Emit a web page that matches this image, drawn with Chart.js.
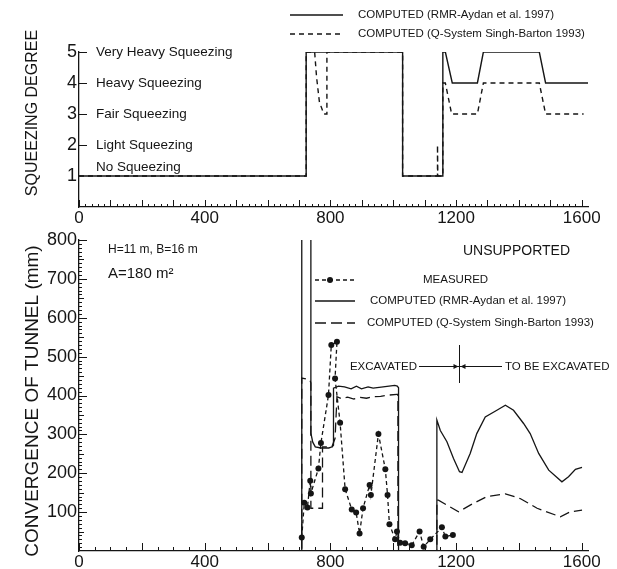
<!DOCTYPE html>
<html>
<head>
<meta charset="utf-8">
<script src="https://cdn.jsdelivr.net/npm/chart.js@4.4.0/dist/chart.umd.min.js"></script>
<style>
  html, body { margin: 0; padding: 0; background: #fff; }
  #wrap { position: relative; width: 617px; height: 569px; overflow: hidden; }
  #topChart { position: absolute; left: 0; top: 0; }
  #botChart { position: absolute; left: 0; top: 225px; }
</style>
</head>
<body>
<div id="wrap">
  <canvas id="topChart" width="617" height="230"></canvas>
  <canvas id="botChart" width="617" height="344"></canvas>
</div>
<script>
const FONT = '"Liberation Sans", Arial, sans-serif';
const INK = '#151515';

// --- squeezing degree (top chart) ---
const degRmrX = [0, 723, 723, 1030, 1030, 1158, 1158, 1166, 1188, 1268, 1287, 1465, 1485, 1620];
const degRmrY = [1, 1, 5, 5, 1, 1, 5, 5, 4, 4, 5, 5, 4, 4];
const degQX = [0, 723, 723, 750, 756, 765, 779, 789, 789, 1030, 1030, 1141, 1141, 1142, 1158, 1158, 1166, 1186, 1268, 1287, 1465, 1485, 1606];
const degQY = [1, 1, 5, 5, 4.2, 3.4, 3, 3, 5, 5, 1, 1, 2, 1, 1, 4, 4, 3, 3, 4, 4, 3, 3];
const squeezeLevels = [1, 2, 3, 4, 5];
const squeezeNames = ['No Squeezing', 'Light Squeezing', 'Fair Squeezing', 'Heavy Squeezing', 'Very Heavy Squeezing'];

// --- convergence of tunnel (bottom chart) ---
const convRmrX = [0, 709, 709, 738, 738, 744, 752, 770, 795, 806, 810, 810, 826, 845, 866, 883, 899, 920, 936, 968,
  1005, 1013, 1017, 1017, 1139, 1139, 1150, 1171, 1192, 1211, 1219, 1245, 1266, 1293, 1330, 1357, 1383, 1415, 1436, 1463,
  1495, 1537, 1558, 1580, 1601];
const convRmrY = [0, 0, 860, 860, 303, 280, 268, 265, 265, 268, 272, 419, 424, 422, 417, 424, 417, 422, 419, 422,
  426, 424, 420, 0, 0, 337, 310, 281, 238, 204, 202, 251, 302, 345, 362, 375, 362, 328, 302, 251,
  208, 178, 191, 210, 215];
const convQX = [0, 709, 709, 735, 738, 738, 775, 775, 805, 815, 821, 835, 855, 875, 895, 915, 935, 960, 985, 1012,
  1015, 1015, 1139, 1139, 1144, 1171, 1208, 1245, 1298, 1357, 1404, 1458, 1532, 1564, 1601];
const convQY = [0, 0, 445, 440, 432, 110, 110, 268, 268, 290, 397, 392, 396, 391, 395, 393, 397, 398, 401, 403,
  403, 0, 0, 131, 131, 118, 101, 118, 140, 147, 135, 110, 88, 101, 105];
const measX = [709, 717, 727, 736, 738, 762, 770, 794, 803, 821, 815, 831, 847, 868, 882, 893, 904, 925, 929, 953,
  975, 982, 988, 1006, 1012, 1022, 1038, 1059, 1084, 1097, 1118, 1155, 1166, 1190];
const measY = [35, 124, 112, 181, 148, 212, 278, 401, 530, 538, 444, 330, 159, 107, 99, 45, 110, 170, 144, 301,
  210, 144, 69, 30, 50, 21, 20, 15, 50, 11, 30, 61, 37, 41];
const excavBoundary = 1211;

const xTicks = [0, 400, 800, 1200, 1600];
const degTicks = [1, 2, 3, 4, 5];
const convTicks = [100, 200, 300, 400, 500, 600, 700, 800];

const labelRmr = 'COMPUTED (RMR-Aydan et al. 1997)';
const labelQ = 'COMPUTED (Q-System Singh-Barton 1993)';
const labelMeas = 'MEASURED';

const pts = (xs, ys) => xs.map((x, i) => ({ x, y: ys[i] }));

// ticks drawn inward from the axes
const innerTicks = {
  id: 'innerTicks',
  afterDraw(chart, args, opts) {
    const { ctx, scales: { x, y } } = chart;
    ctx.save();
    ctx.strokeStyle = INK;
    ctx.lineWidth = 1;
    ctx.beginPath();
    (opts.x || []).forEach(t => {
      for (let v = 0; v <= 1600; v += t.step) {
        const px = Math.round(x.getPixelForValue(v)) + 0.5;
        ctx.moveTo(px, y.bottom);
        ctx.lineTo(px, y.bottom - t.len);
      }
    });
    (opts.y || []).forEach(t => {
      for (let v = t.from || t.step; v <= y.max; v += t.step) {
        const py = Math.round(y.getPixelForValue(v)) + 0.5;
        ctx.moveTo(x.left, py);
        ctx.lineTo(x.left + t.len, py);
      }
    });
    ctx.stroke();
    ctx.restore();
  }
};

// rotated y title, placed like the figure
const sideTitle = {
  id: 'sideTitle',
  afterDraw(chart, args, opts) {
    const ctx = chart.ctx;
    ctx.save();
    ctx.translate(opts.x, opts.y);
    ctx.rotate(-Math.PI / 2);
    ctx.font = opts.size + 'px ' + FONT;
    ctx.fillStyle = INK;
    ctx.textAlign = 'center';
    ctx.textBaseline = 'middle';
    ctx.fillText(opts.text, 0, 0);
    ctx.restore();
  }
};

// legend drawn at fixed spots like the figure
const lineLegend = {
  id: 'lineLegend',
  afterDraw(chart, args, opts) {
    const ctx = chart.ctx;
    opts.items.forEach(it => {
      const ds = chart.data.datasets[it.ds];
      ctx.save();
      ctx.strokeStyle = INK;
      ctx.fillStyle = INK;
      ctx.lineWidth = 1.3;
      ctx.setLineDash(it.dash || ds.borderDash || []);
      ctx.beginPath();
      ctx.moveTo(opts.x0, it.y);
      ctx.lineTo(opts.x1, it.y);
      ctx.stroke();
      if (it.dot) {
        ctx.beginPath();
        ctx.arc(it.dot, it.y, 3, 0, Math.PI * 2);
        ctx.fill();
      }
      ctx.font = opts.font;
      ctx.textBaseline = 'middle';
      ctx.fillText(ds.label, it.tx, it.y);
      ctx.restore();
    });
  }
};

const squeezeText = {
  id: 'squeezeText',
  afterDraw(chart) {
    const { ctx, scales: { y } } = chart;
    ctx.save();
    ctx.font = '13.5px ' + FONT;
    ctx.fillStyle = INK;
    ctx.textBaseline = 'middle';
    squeezeLevels.forEach((lv, i) => {
      const py = y.getPixelForValue(lv) - (lv === 1 ? 9 : 0);
      ctx.fillText(squeezeNames[i], 96, py);
    });
    ctx.restore();
  }
};

const notes = {
  id: 'notes',
  afterDraw(chart) {
    const { ctx, scales: { x } } = chart;
    ctx.save();
    ctx.fillStyle = INK;
    ctx.strokeStyle = INK;
    ctx.textBaseline = 'middle';
    ctx.font = '12px ' + FONT;
    ctx.fillText('H=11 m, B=16 m', 108, 25);
    ctx.font = '15px ' + FONT;
    ctx.fillText('A=180 m\u00b2', 108, 49);
    ctx.font = '14px ' + FONT;
    ctx.textAlign = 'right';
    ctx.fillText('UNSUPPORTED', 570, 26);
    ctx.font = '11.5px ' + FONT;
    ctx.fillText('EXCAVATED', 417, 142);
    ctx.textAlign = 'left';
    ctx.fillText('TO BE EXCAVATED', 505, 142);
    const bx = Math.round(x.getPixelForValue(excavBoundary)) + 0.5;
    ctx.lineWidth = 1;
    ctx.beginPath();
    ctx.moveTo(419, 141.5); ctx.lineTo(502, 141.5);
    ctx.moveTo(bx, 120); ctx.lineTo(bx, 158);
    ctx.stroke();
    ctx.beginPath();
    ctx.moveTo(bx - 1, 141.5); ctx.lineTo(bx - 6, 139); ctx.lineTo(bx - 6, 144); ctx.closePath();
    ctx.moveTo(bx + 1, 141.5); ctx.lineTo(bx + 6, 139); ctx.lineTo(bx + 6, 144); ctx.closePath();
    ctx.fill();
    ctx.restore();
  }
};

function xScale(height) {
  return {
    type: 'linear', min: 0, max: 1620,
    afterFit: s => { s.height = height; },
    afterBuildTicks: s => { s.ticks = xTicks.map(v => ({ value: v })); },
    grid: { display: false, drawTicks: false },
    border: { display: true, color: INK, width: 1.3 },
    ticks: { color: INK, font: { family: FONT, size: 17 }, padding: 1, maxRotation: 0, autoSkip: false,
      callback: v => String(v) }
  };
}

function yScale(min, max, ticks) {
  return {
    type: 'linear', min, max,
    afterFit: s => { s.width = 79; },
    afterBuildTicks: s => { s.ticks = ticks.map(v => ({ value: v })); },
    grid: { display: false, drawTicks: false },
    border: { display: true, color: INK, width: 1.3 },
    ticks: { color: INK, font: { family: FONT, size: 18 }, padding: 2, autoSkip: false,
      callback: v => String(v) }
  };
}

const common = {
  responsive: false,
  animation: false,
  events: [],
  elements: { point: { radius: 0 }, line: { tension: 0 } }
};

new Chart(document.getElementById('topChart'), {
  type: 'line',
  data: {
    datasets: [
      { label: labelRmr, data: pts(degRmrX, degRmrY), borderColor: INK, borderWidth: 1.4 },
      { label: labelQ, data: pts(degQX, degQY), borderColor: INK, borderWidth: 1.4, borderDash: [5, 4] }
    ]
  },
  options: {
    ...common,
    layout: { padding: { left: 0, top: 52, right: 29, bottom: 0 } },
    scales: {
      x: xScale(23),
      y: yScale(0, 5, degTicks)
    },
    plugins: {
      legend: { display: false },
      tooltip: { enabled: false },
      innerTicks: { x: [{ step: 20, len: 3 }, { step: 100, len: 7 }], y: [{ step: 1, from: 2, len: 8 }] },
      sideTitle: { text: 'SQUEEZING DEGREE', x: 33, y: 113, size: 16 },
      lineLegend: {
        x0: 290, x1: 343, font: '11.5px ' + FONT,
        items: [{ ds: 0, y: 15, tx: 358 }, { ds: 1, y: 34, tx: 358 }]
      }
    }
  },
  plugins: [innerTicks, sideTitle, lineLegend, squeezeText]
});

new Chart(document.getElementById('botChart'), {
  type: 'line',
  data: {
    datasets: [
      { label: labelMeas, data: pts(measX, measY), borderColor: INK, borderWidth: 1.3, borderDash: [4, 3],
        pointRadius: 3, pointBackgroundColor: INK, pointBorderWidth: 0 },
      { label: labelRmr, data: pts(convRmrX, convRmrY), borderColor: INK, borderWidth: 1.3 },
      { label: labelQ, data: pts(convQX, convQY), borderColor: INK, borderWidth: 1.3, borderDash: [10, 5] }
    ]
  },
  options: {
    ...common,
    layout: { padding: { left: 0, top: 15, right: 29, bottom: 0 } },
    scales: {
      x: xScale(18),
      y: yScale(0, 800, convTicks)
    },
    plugins: {
      legend: { display: false },
      tooltip: { enabled: false },
      innerTicks: {
        x: [{ step: 50, len: 4 }, { step: 200, len: 8 }],
        y: [{ step: 10, len: 3 }, { step: 50, len: 5 }, { step: 100, len: 8 }]
      },
      sideTitle: { text: 'CONVERGENCE OF TUNNEL (mm)', x: 33, y: 176, size: 19 },
      lineLegend: {
        x0: 315, x1: 355, font: '11.5px ' + FONT,
        items: [
          { ds: 0, y: 55, tx: 423, dot: 330, dash: [4, 3] },
          { ds: 1, y: 76, tx: 370 },
          { ds: 2, y: 98, tx: 367, dash: [11, 5] }
        ]
      }
    }
  },
  plugins: [innerTicks, sideTitle, lineLegend, notes]
});
</script>
</body>
</html>
